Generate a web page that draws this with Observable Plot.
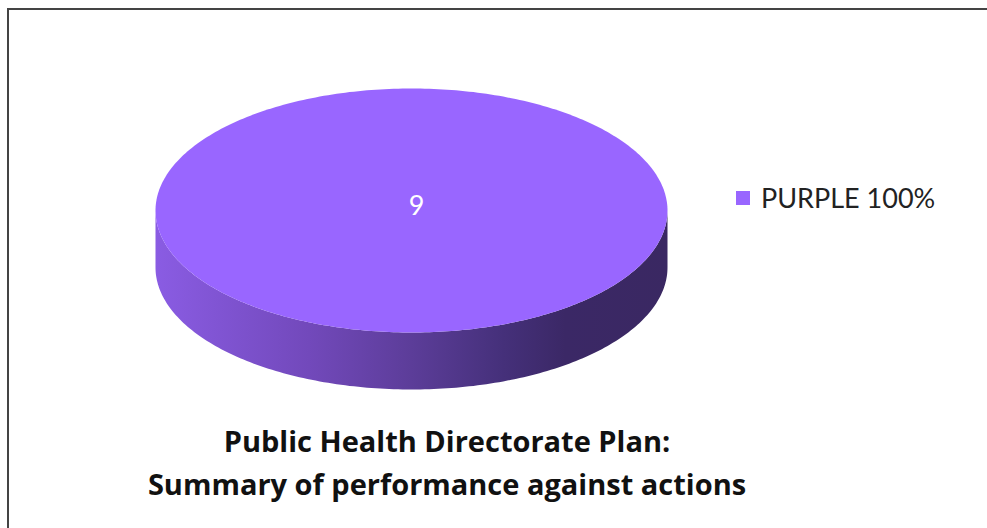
<!DOCTYPE html>
<html>
<head>
<meta charset="utf-8">
<script src="https://cdn.jsdelivr.net/npm/d3@7"></script>
<script src="https://cdn.jsdelivr.net/npm/@observablehq/plot@0.6"></script>
<style>
  html, body { margin: 0; padding: 0; background: #fff; overflow: hidden; width: 987px; height: 528px; }
  #frame { position: absolute; left: 7px; top: 8px; width: 2000px; height: 2000px; border: 2px solid #444; box-sizing: border-box; }
  #chart { position: absolute; left: 0; top: 0; }
  #legend { position: absolute; left: 736px; top: 181px; font-family: Lato, "Open Sans", sans-serif; font-size: 27px; color: #222; display: flex; align-items: center; white-space: nowrap; }
  #legend .sw { width: 14px; height: 14px; margin-right: 11px; }
  #title { position: absolute; left: 0; width: 894px; top: 419px; text-align: center; font-family: "Open Sans", Lato, sans-serif; font-weight: bold; font-size: 29px; line-height: 43px; color: #111; white-space: nowrap; }
</style>
</head>
<body>
<div id="frame"></div>
<div id="chart"></div>
<div id="legend"></div>
<div id="title"></div>
<script>
// ---- data ----
const categories = ["PURPLE"];
const values = [9];
const colors = ["#9966FF"];
const titleLines = ["Public Health Directorate Plan:", "Summary of performance against actions"];

// ---- derived ----
const total = d3.sum(values);
const depth = 0.467; // thickness of pie in y units (ellipse ry = 1)
const pie = d3.pie().sort(null)(values);

// top-face polygons for each slice
const topPts = [];
pie.forEach((p, i) => {
  const a0 = p.startAngle, a1 = p.endAngle;
  const n = Math.max(2, Math.ceil((a1 - a0) / (Math.PI / 180)));
  const full = (a1 - a0) >= 2 * Math.PI - 1e-9;
  if (!full) topPts.push({ cat: categories[i], x: 0, y: 0 });
  for (let k = 0; k <= n; k++) {
    const a = a0 + (a1 - a0) * k / n;
    topPts.push({ cat: categories[i], x: Math.sin(a), y: Math.cos(a) });
  }
});

// front side band (visible lower half of the cylinder)
const sidePts = [];
for (let k = 0; k <= 180; k++) {
  sidePts.push({ x: -Math.cos(Math.PI * k / 180), y: -Math.sin(Math.PI * k / 180) });
}
for (let k = 180; k >= 0; k--) {
  sidePts.push({ x: -Math.cos(Math.PI * k / 180), y: -Math.sin(Math.PI * k / 180) - depth });
}

// labels
const labels = pie.map((p, i) => {
  const full = (p.endAngle - p.startAngle) >= 2 * Math.PI - 1e-9;
  const m = (p.startAngle + p.endAngle) / 2;
  return { x: full ? 0.02 : Math.sin(m) * 0.6, y: full ? 0.03 : Math.cos(m) * 0.6, text: String(values[i]) };
});

const plot = Plot.plot({
  width: 987,
  height: 400,
  marginLeft: 155,
  marginRight: 320,
  marginTop: 88,
  marginBottom: 11,
  x: { domain: [-1, 1], axis: null },
  y: { domain: [-1 - depth, 1], axis: null },
  style: { background: "transparent", overflow: "visible" },
  marks: [
    Plot.line(sidePts, { x: "x", y: "y", fill: "url(#sideGrad)", stroke: "none", curve: "linear" }),
    Plot.line(topPts, { x: "x", y: "y", z: "cat", fill: (d) => colors[categories.indexOf(d.cat)], stroke: "none" }),
    Plot.text(labels, { x: "x", y: "y", text: "text", fill: "white", fontSize: 27, fontFamily: "Lato, 'Open Sans', sans-serif" })
  ]
});

// gradient for the side of the pie
const svg = d3.select(plot);
const defs = svg.insert("defs", ":first-child");
const g = defs.append("linearGradient").attr("id", "sideGrad").attr("x1", "0%").attr("x2", "100%").attr("y1", "0%").attr("y2", "0%");
[["0%", "#8A5CE3"], ["30%", "#7249BB"], ["50%", "#5C3D99"], ["68%", "#45307A"], ["80%", "#3B2866"], ["100%", "#3A2862"]]
  .forEach(([o, c]) => g.append("stop").attr("offset", o).attr("stop-color", c));

document.getElementById("chart").appendChild(plot);

// legend
const legend = document.getElementById("legend");
categories.forEach((c, i) => {
  const sw = document.createElement("span");
  sw.className = "sw";
  sw.style.background = colors[i];
  const tx = document.createElement("span");
  tx.textContent = `${c} ${Math.round(values[i] / total * 100)}%`;
  legend.appendChild(sw);
  legend.appendChild(tx);
});

document.getElementById("title").innerHTML = titleLines.join("<br>");
</script>
</body>
</html>
